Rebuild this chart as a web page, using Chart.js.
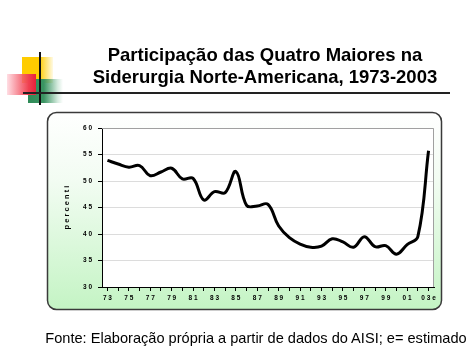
<!DOCTYPE html>
<html>
<head>
<meta charset="utf-8">
<script src="https://cdn.jsdelivr.net/npm/chart.js@4/dist/chart.umd.min.js"></script>
<style>
  html, body { margin:0; padding:0; background:#fff; }
  body { width:474px; height:355px; position:relative; overflow:hidden; font-family:"Liberation Sans", Arial, sans-serif; }
  #c { position:absolute; left:0; top:0; z-index:2; }
  .deco { position:absolute; }
  #yel { left:22px; top:57px; width:31px; height:26px; background:linear-gradient(to right,#ffcc00 0%,#ffcc00 55%,rgba(255,230,120,0.2) 100%); z-index:0; }
  #red { left:7px; top:74px; width:29px; height:21px; background:linear-gradient(to right,rgba(255,200,210,0.6) 0%,#f04050 75%,#e8203a 100%); z-index:1; }
  #grn { left:28px; top:79px; width:35px; height:24px; background:linear-gradient(to right,#2e8b57 0%,#3a9462 45%,rgba(120,190,150,0.3) 85%,rgba(255,255,255,0) 100%); z-index:0; }
  #vl { left:39px; top:52px; width:2px; height:53px; background:#111; z-index:3; }
  #hl { left:23px; top:92px; width:427px; height:2px; background:#222; z-index:3; }
  #title { position:absolute; left:65px; width:400px; top:44px; text-align:center; font-weight:bold; font-size:18.5px; line-height:22px; color:#000; z-index:3; }
  #foot { position:absolute; left:0; width:512px; top:330px; text-align:center; font-size:14.6px; color:#000; z-index:3; white-space:nowrap; }
</style>
</head>
<body>
<div class="deco" id="yel"></div>
<div class="deco" id="grn"></div>
<div class="deco" id="red"></div>
<div class="deco" id="vl"></div>
<div class="deco" id="hl"></div>
<div id="title">Participação das Quatro Maiores na<br>Siderurgia Norte-Americana, 1973-2003</div>
<canvas id="c" width="474" height="355"></canvas>
<div id="foot">Fonte: Elaboração própria a partir de dados do AISI; e= estimado</div>
<script>
const years = [1973,1974,1975,1976,1977,1978,1979,1980,1981,1982,1983,1984,1985,1986,1987,1988,1989,1990,1991,1992,1993,1994,1995,1996,1997,1998,1999,2000,2001,2002,2003];
const shares = [53.9,53.2,52.6,52.9,51.0,51.7,52.4,50.4,50.5,46.4,48.0,47.8,51.8,45.4,45.3,45.6,41.5,39.3,38.1,37.5,37.7,39.1,38.5,37.5,39.5,37.6,37.8,36.2,38.0,39.5,55.7];
const yTicks = [30,35,40,45,50,55,60];
const estimatedYear = 2003;

function spaced(s){ return s.split('').join(' '); }
function xLabel(v){
  if ((v - 1973) % 2 !== 0) return '';
  let s = String(v).slice(2);
  if (v === estimatedYear) s += 'e';
  return spaced(s);
}

const panelPlugin = {
  id:'panel',
  beforeDraw(chart){
    const ctx = chart.ctx, a = chart.chartArea;
    ctx.save();
    const x=47.5, y=112.5, w=394, h=197, r=9;
    const g = ctx.createLinearGradient(0,y,0,y+h);
    g.addColorStop(0,'#ffffff');
    g.addColorStop(0.35,'#f2fcf2');
    g.addColorStop(1,'#c4f4c4');
    ctx.beginPath();
    ctx.roundRect(x,y,w,h,r);
    ctx.fillStyle = g;
    ctx.fill();
    ctx.lineWidth = 1.5;
    ctx.strokeStyle = '#3a3a3a';
    ctx.stroke();
    ctx.fillStyle = '#ffffff';
    ctx.fillRect(a.left, a.top, a.right-a.left, a.bottom-a.top);
    ctx.restore();
  },
  beforeDatasetsDraw(chart){
    const ctx = chart.ctx, a = chart.chartArea;
    ctx.save();
    ctx.strokeStyle = '#a0a0a0';
    ctx.lineWidth = 1;
    ctx.beginPath();
    ctx.moveTo(a.left, a.top+0.5);
    ctx.lineTo(a.right-0.5, a.top+0.5);
    ctx.lineTo(a.right-0.5, a.bottom);
    ctx.stroke();
    ctx.restore();
  }
};

new Chart(document.getElementById('c'), {
  type:'line',
  data:{
    datasets:[{
      data: years.map((yr,i)=>({x:yr, y:shares[i]})),
      borderColor:'#000',
      borderWidth:3,
      pointRadius:0,
      tension:0.4,
      fill:false
    }]
  },
  options:{
    responsive:false,
    animation:false,
    devicePixelRatio:1,
    layout:{ padding:{ left:52, right:40, top:128, bottom:48 } },
    plugins:{ legend:{display:false}, tooltip:{enabled:false}, title:{display:false} },
    scales:{
      x:{
        type:'linear', min:1972.49, max:2003.51,
        afterBuildTicks(s){ s.ticks = years.map(v=>({value:v})); },
        afterFit(s){ s.height = 20; },
        grid:{ drawOnChartArea:false, tickLength:4, tickColor:'#000', lineWidth:1 },
        border:{ color:'#000', width:1 },
        ticks:{ autoSkip:false, maxRotation:0, minRotation:0, padding:3, color:'#000',
          font:{ family:'"Liberation Sans", Arial, sans-serif', size:6.5, weight:'bold' },
          callback:(v)=>xLabel(v) }
      },
      y:{
        min:30, max:60,
        afterBuildTicks(s){ s.ticks = yTicks.map(v=>({value:v})); },
        afterFit(s){ s.width = 50; },
        grid:{ color:'#dcdcdc', lineWidth:1, tickLength:4, tickColor:'#000' },
        border:{ color:'#000', width:1 },
        ticks:{ padding:6, color:'#000',
          font:{ family:'"Liberation Sans", Arial, sans-serif', size:6.5, weight:'bold' },
          callback:(v)=>spaced(String(v)) },
        title:{ display:true, text:spaced('percenti'), color:'#000', padding:{top:10,bottom:0},
          font:{ family:'"Liberation Sans", Arial, sans-serif', size:7.5, weight:'bold' } }
      }
    }
  },
  plugins:[panelPlugin]
});
</script>
</body>
</html>
